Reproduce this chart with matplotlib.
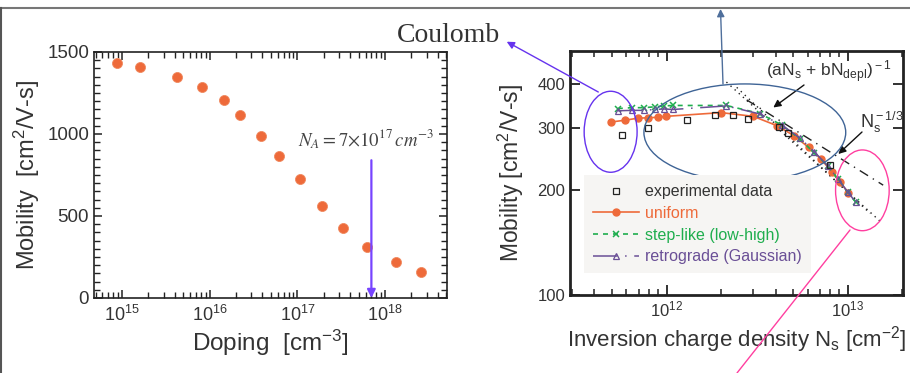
import numpy as np
import matplotlib
matplotlib.use("Agg")
import matplotlib.pyplot as plt
from matplotlib.lines import Line2D
from matplotlib.patches import Ellipse
from matplotlib.ticker import LogLocator, MultipleLocator, NullFormatter, NullLocator, FixedLocator

plt.rcParams['font.family'] = ['Liberation Sans', 'DejaVu Sans']
plt.rcParams['mathtext.fontset'] = 'custom'
plt.rcParams['mathtext.rm'] = 'Liberation Sans'
plt.rcParams['mathtext.it'] = 'Liberation Sans:italic'
plt.rcParams['mathtext.bf'] = 'Liberation Sans:bold'

# -------------------------------
# data: bulk mobility vs doping
# -------------------------------
doping = [8.8e14, 1.6e15, 4.3e15, 8.1e15, 1.47e16, 2.25e16, 3.9e16,
          6.2e16, 1.07e17, 1.9e17, 3.3e17, 6.3e17, 1.34e18, 2.6e18]
mobility_bulk = [1435, 1410, 1349, 1285, 1207, 1114, 990,
                 868, 727, 563, 429, 311, 221, 160]
na_marker = 7e17
na_arrow_top = 840

# -------------------------------
# data: inversion layer mobility
# -------------------------------
ns_exp = [5.7e11, 7.85e11, 1.3e12, 1.85e12, 2.32e12, 2.81e12, 4.17e12, 4.7e12, 8.0e12]
mu_exp = [286, 301, 316, 327, 327, 319, 303, 291, 235]

ns_uni = [4.92e11, 5.93e11, 6.92e11, 7.92e11, 8.96e11, 9.96e11, 2.0e12, 3.01e12,
          4.05e12, 5.07e12, 6.09e12, 7.1e12, 8.16e12, 9.08e12, 1.01e13]
mu_uni = [312, 316, 320, 321, 322, 324, 332, 324, 305, 285, 264, 245, 225, 210, 196]

ns_sim = [5.38e11, 6.43e11, 7.5e11, 8.66e11, 9.67e11, 1.09e12, 2.14e12, 3.28e12,
          4.32e12, 5.45e12, 6.52e12, 7.75e12, 8.88e12, 1.0e13, 1.11e13]
mu_step = [341, 343, 343, 345, 347, 348, 348, 330, 306, 279, 255, 234, 214, 197, 184]
mu_retro = [336, 337, 337, 339, 340, 339, 347, 329, 306, 281, 257, 234, 214, 197, 184]

# fit guide lines (end points)
fit1_ns = [2.14e12, 1.54e13]
fit1_mu = [406, 161]
fit2_ns = [2.44e12, 1.33e13]
fit2_mu = [392, 171]
fit3_ns = [2.77e12, 1.57e13]
fit3_mu = [361, 206]

labels = ['experimental data', 'uniform', 'step-like (low-high)', 'retrograde (Gaussian)']

c_orange = '#ee6a3a'
c_green = '#1fae4e'
c_purple = '#6a4f96'
c_text = '#333333'

W, H = 910, 373
fig = plt.figure(figsize=(W / 100, H / 100), dpi=100)


def fx(x, y):
    return x / W, 1 - y / H


def fp(x, y):
    return x, H - y


# -------------------------------
# left panel
# -------------------------------
ax1 = fig.add_axes([94 / W, 1 - 298 / H, 353 / W, 246 / H])
ax1.scatter(doping, mobility_bulk, s=52, color=c_orange, edgecolors='#f08a60', linewidths=0.6, zorder=3)
ax1.set_xscale('log')
ax1.set_xlim(4.8e14, 5.1e18)
ax1.set_ylim(0, 1500)
ax1.yaxis.set_major_locator(FixedLocator([0, 500, 1000, 1500]))
ax1.yaxis.set_minor_locator(MultipleLocator(50))
ax1.xaxis.set_major_locator(LogLocator(base=10, numticks=10))
ax1.xaxis.set_minor_locator(LogLocator(base=10, subs=np.arange(2, 10), numticks=20))
ax1.xaxis.set_minor_formatter(NullFormatter())
ax1.tick_params(which='both', direction='in', top=True, right=True, colors='#222', labelcolor=c_text)
ax1.tick_params(which='major', length=6, width=1.1, labelsize=13.5)
ax1.tick_params(which='minor', length=4, width=1.0)
ax1.tick_params(axis='x', which='major', labelsize=13, pad=5)
for s in ax1.spines.values():
    s.set_linewidth(1.2)
    s.set_color('#222')
ax1.set_ylabel('Mobility  [cm$^2$/V-s]', fontsize=17, color=c_text, labelpad=4)
ax1.set_xlabel('Doping  [cm$^{-3}$]', fontsize=17.5, color=c_text, labelpad=2)

ax1.annotate('', xy=(na_marker, 0), xytext=(na_marker, na_arrow_top),
             arrowprops=dict(arrowstyle='-|>', color='#7744ff', lw=1.6, mutation_scale=12,
                             shrinkA=0, shrinkB=0), annotation_clip=False)
fig.text(*fx(298, 146.5), r'$N_A = 7{\times}10^{17}\,cm^{-3}$', fontsize=13.5, color='#444',
         ha='left', va='baseline', math_fontfamily='stix')

# -------------------------------
# right panel
# -------------------------------
ax2 = fig.add_axes([570 / W, 1 - 295 / H, 333 / W, 244 / H])
ax2.plot(ns_exp, mu_exp, ls='none', marker='s', ms=4.2, mfc='none', mec='#222', mew=0.9,
         label=labels[0], zorder=4)
ax2.plot(ns_uni, mu_uni, ls='-', color=c_orange, lw=1.2, marker='o', ms=5, mec=c_orange,
         label=labels[1], zorder=3)
ax2.plot(ns_sim, mu_step, ls=(0, (3, 3)), color=c_green, lw=1.2, marker='x', ms=4.5, mew=1.1,
         label=labels[2], zorder=3)
ax2.plot(ns_sim, mu_retro, ls=(0, (16, 5, 1, 5)), color=c_purple, lw=1.1, marker='^', ms=4.2,
         mfc='none', mec=c_purple, mew=0.9, label=labels[3], zorder=3)
ax2.plot(fit1_ns, fit1_mu, ls=(0, (1, 3)), color='#222', lw=1.0, zorder=2)
ax2.plot(fit2_ns, fit2_mu, ls=(0, (1, 3)), color='#222', lw=1.0, zorder=2)
ax2.plot(fit3_ns, fit3_mu, ls=(0, (7, 4, 1, 4)), color='#222', lw=1.0, zorder=2)

ax2.set_xscale('log')
ax2.set_yscale('log')
ax2.set_xlim(2.93e11, 2.02e13)
ax2.set_ylim(100, 498)
ax2.yaxis.set_major_locator(FixedLocator([100, 200, 300, 400]))
ax2.yaxis.set_major_formatter(matplotlib.ticker.FixedFormatter(['100', '200', '300', '400']))
ax2.yaxis.set_minor_locator(NullLocator())
ax2.xaxis.set_major_locator(LogLocator(base=10, numticks=10))
ax2.xaxis.set_minor_locator(LogLocator(base=10, subs=np.arange(2, 10), numticks=20))
ax2.xaxis.set_minor_formatter(NullFormatter())
ax2.tick_params(which='both', direction='in', top=True, right=True, colors='#222', labelcolor=c_text)
ax2.tick_params(which='major', length=7, width=1.3, labelsize=12)
ax2.tick_params(which='minor', length=4, width=1.1)
for s in ax2.spines.values():
    s.set_linewidth(2)
    s.set_color('#222')
ax2.set_ylabel('Mobility [cm$^2$/V-s]', fontsize=16.5, color=c_text, labelpad=8)
ax2.set_xlabel('Inversion charge density N$_{\\rm s}$ [cm$^{-2}$]', fontsize=16, color=c_text,
               labelpad=3)

leg = ax2.legend(loc='lower left', bbox_to_anchor=(0.042, 0.09), frameon=True, facecolor='#f6f5f3',
                 edgecolor='none', framealpha=1, fancybox=False, fontsize=11.5, handlelength=2.9,
                 handletextpad=0.4, labelspacing=0.42, borderpad=0.55, borderaxespad=0)
for t, c in zip(leg.get_texts(), [c_text, c_orange, c_green, c_purple]):
    t.set_color(c)

# ellipses around regions
ax2.add_patch(Ellipse((0.122, 0.669), 0.159, 0.332, transform=ax2.transAxes, fill=False,
                      ec='#6633ee', lw=1.0, clip_on=False, zorder=5))
ax2.add_patch(Ellipse((0.525, 0.666), 0.606, 0.398, transform=ax2.transAxes, fill=False,
                      ec='#3f6496', lw=1.0, clip_on=False, zorder=5))
ax2.add_patch(Ellipse((0.878, 0.429), 0.161, 0.331, transform=ax2.transAxes, fill=False,
                      ec='#ff3fa0', lw=1.0, clip_on=False, zorder=5))

# annotations across the figure
def arrow(tip, tail, color, lw=1.0, head=True):
    style = '-|>' if head else '-'
    ax2.annotate('', xy=fp(*tip), xytext=fp(*tail), xycoords='figure pixels',
                 textcoords='figure pixels', annotation_clip=False,
                 arrowprops=dict(arrowstyle=style, color=color, lw=lw, mutation_scale=11,
                                 shrinkA=0, shrinkB=0))


arrow((506.7, 41.7), (598.3, 92), '#6633ee')
arrow((720.5, 9), (723, 84), '#4f6f9c')
arrow((773.3, 107.5), (804, 85), '#111')
arrow((838.3, 154), (862, 132), '#111')
arrow((737, 373), (850, 230), '#ff3fa0', head=False)

fig.text(*fx(448.5, 41.7), 'Coulomb', fontsize=20, family=['Liberation Serif', 'DejaVu Serif'],
         color=c_text, ha='center', va='baseline')
fig.text(*fx(766, 77), r'(aN$_{\rm s}$ + bN$_{\rm depl}$)$^{\rm -1}$', fontsize=12.5, color=c_text,
         ha='left', va='baseline')
fig.text(*fx(860, 128), r'N$_{\rm s}^{\rm -1/3}$', fontsize=13, color=c_text,
         ha='left', va='baseline')

# frame lines of the slide
fig.add_artist(Line2D([0, 1], [1 - 7.5 / H, 1 - 7.5 / H], transform=fig.transFigure,
                      color='#777', lw=1.5))
fig.add_artist(Line2D([1 / W, 1 / W], [0, 1 - 7.5 / H], transform=fig.transFigure,
                      color='#555', lw=1.5))

fig.savefig('out.png', dpi=100)
